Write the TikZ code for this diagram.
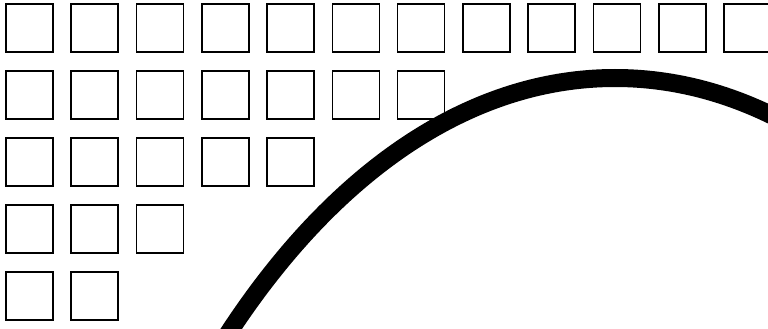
\documentclass[tikz,border=0pt]{standalone}
\usetikzlibrary{positioning}
\tikzset{
  every picture/.style={line width=1.6pt},
  cell/.style={draw=black, fill=white, minimum width=47pt, minimum height=48pt, inner sep=0pt, anchor=north west},
  bow/.style={draw=black, line width=18pt},
}
\begin{document}
\begin{tikzpicture}[x=1pt, y=-1pt]
  \clip (0,0) rectangle (768,329);
  % staircase of squares: 12, 7, 5, 3, 2 per row
  \foreach \n [count=\j from 0] in {12,7,5,3,2} {
    \foreach \i in {1,...,\n} {
      \pgfmathsetmacro{\x}{5+65.3*(\i-1)}
      \pgfmathsetmacro{\y}{3+67*\j}
      \node[cell] (s\j-\i) at (\x,\y) {};
    }
  }
  % the big curve
  \coordinate (mid) at (615,1142);
  \draw[bow] (mid) ellipse [x radius=595, y radius=1064];
\end{tikzpicture}
\end{document}
